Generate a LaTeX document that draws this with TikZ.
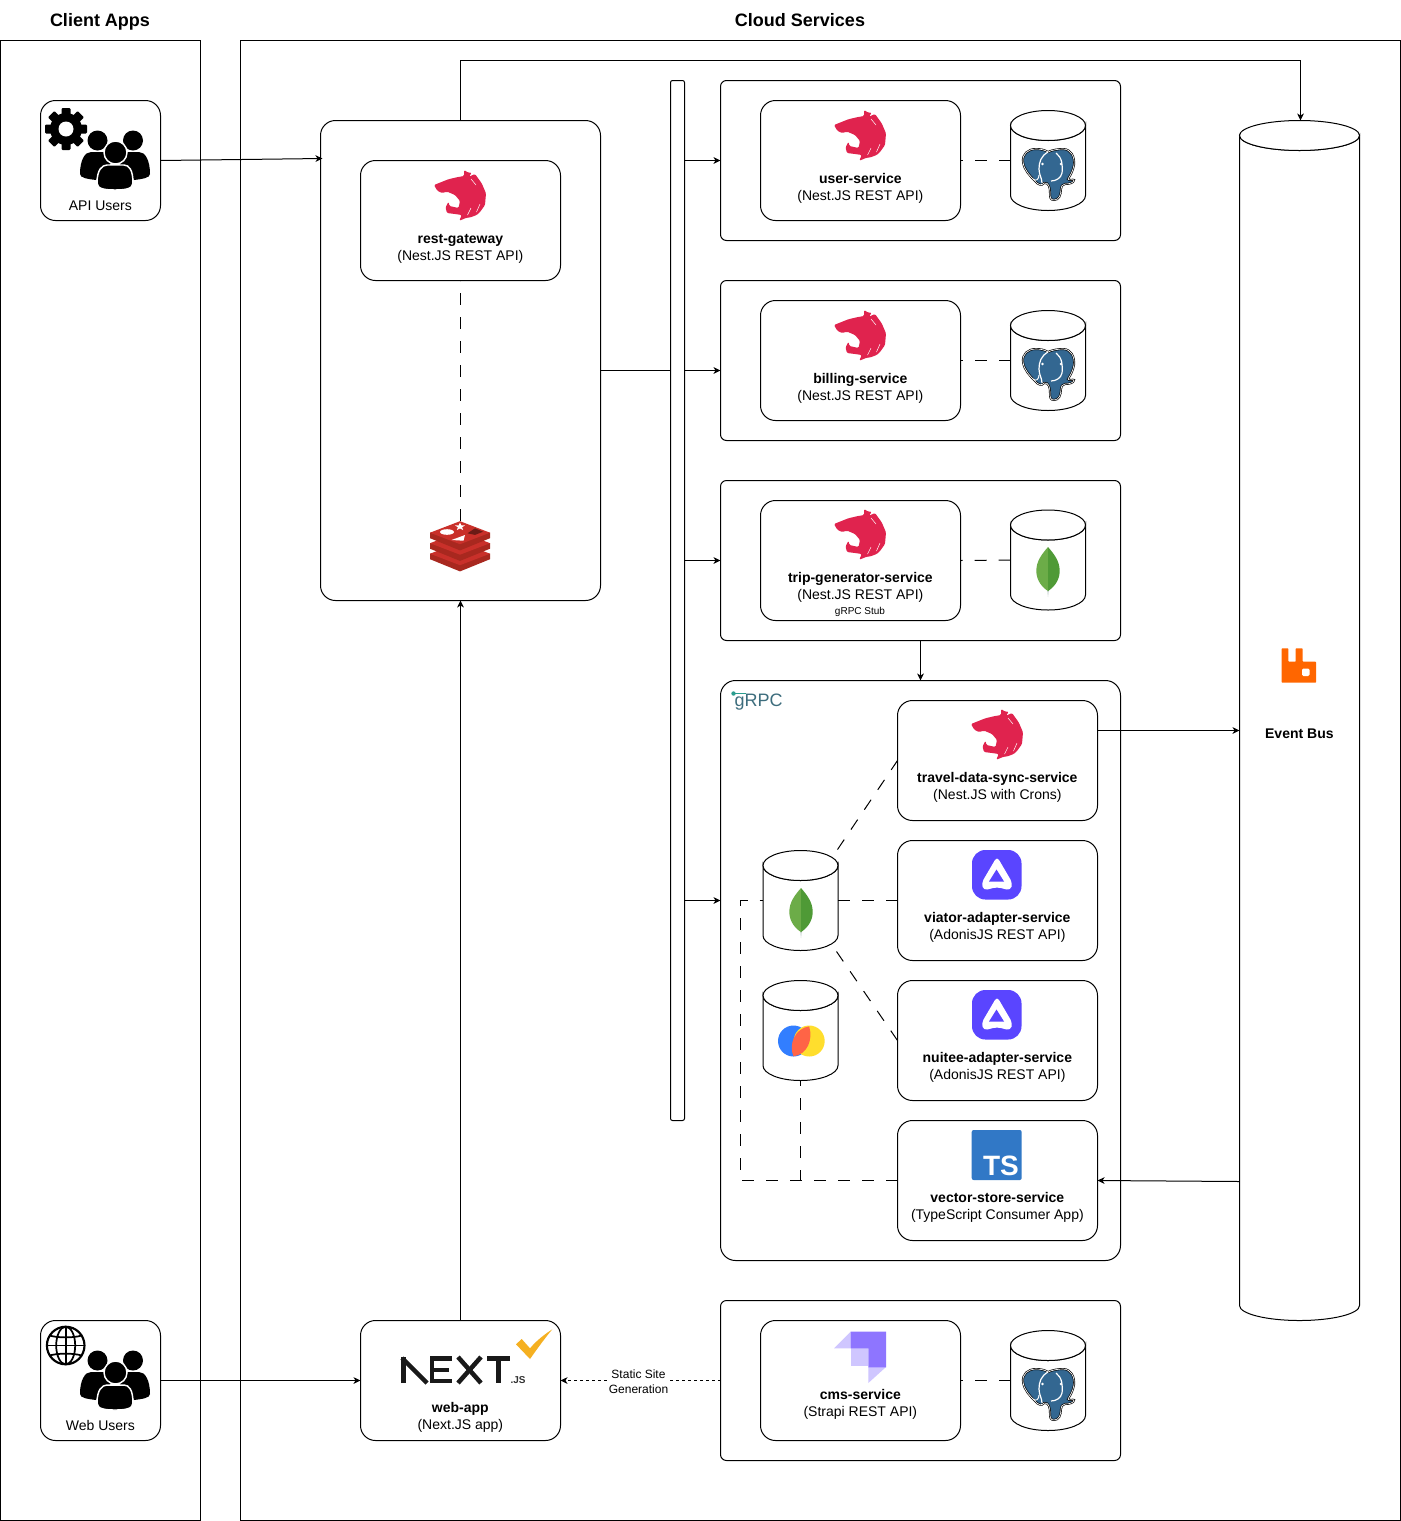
\documentclass[tikz,border=0pt]{standalone}
\usepackage{fontspec}
\setmainfont{Liberation Sans}
\usetikzlibrary{arrows.meta}
\definecolor{nestred}{HTML}{E0234E}
\definecolor{pgblue}{HTML}{336791}
\definecolor{leafL}{HTML}{6CAC48}
\definecolor{leafR}{HTML}{4F9A36}
\definecolor{leafS}{HTML}{B8C4C2}
\definecolor{adonisP}{HTML}{5A45FF}
\definecolor{tsblue}{HTML}{3178C6}
\definecolor{rmqorange}{HTML}{FF6600}
\definecolor{redisR}{HTML}{C9302A}
\definecolor{redisD}{HTML}{A8281F}
\definecolor{redisK}{HTML}{6B1B16}
\definecolor{strapiD}{HTML}{8E75FF}
\definecolor{strapiL}{HTML}{CFC6FF}
\definecolor{nextok}{HTML}{F5B021}
\definecolor{grpcteal}{HTML}{3D6D7D}
\definecolor{grpcdot}{HTML}{2A9D8F}
\definecolor{chromaB}{HTML}{327EFF}
\definecolor{chromaY}{HTML}{FFDE2D}
\definecolor{chromaR}{HTML}{FF6446}
\newcommand{\pxdim}[1]{\dimexpr #1pt*3/4\relax}
\tikzset{
  every pic/.style={shift={(-0.5,-0.5)}},
  panel/.style={draw=black,fill=none,anchor=north west,inner sep=0pt,outer sep=0pt},
  cardbox/.style={draw=black,fill=white,anchor=north west,inner sep=0pt,outer sep=0pt,rounded corners=11.25pt},
  groupbox/.style={draw=black,fill=white,anchor=north west,inner sep=0pt,outer sep=0pt,rounded corners=4.5pt},
  barbox/.style={draw=black,fill=white,anchor=north west,inner sep=0pt,outer sep=0pt,rounded corners=1.5pt},
  cylframe/.style={inner sep=0pt,outer sep=0pt,anchor=north west},
  cylline/.style={draw=black,fill=white},
  arrowline/.style={-{Stealth[length=5.25pt,width=5pt,inset=1.5pt]}},
  longdash/.style={dash pattern=on 9pt off 9pt},
  shortdash/.style={dash pattern=on 2.25pt off 2.25pt},
  titletext/.style={font=\fontsize{13.5}{16}\selectfont\bfseries,inner sep=0pt,execute at begin node=\strut},
  svctext/.style={font=\fontsize{10.5}{12.75}\selectfont,align=center,inner sep=0pt,xshift=-0.1pt,yshift=0.375pt,execute at begin node=\strut,execute at end node=\strut},
  tinytext/.style={font=\fontsize{7.5}{9}\selectfont,inner sep=0pt},
  edgetext/.style={font=\fontsize{9}{11.25}\selectfont,align=center,fill=white,inner sep=1pt,xshift=-0.375pt},
  pics/nestlogo/.style={code={
    \fill[nestred,rounded corners=0.9pt] (0,15) -- (14.3,9.3) -- (22.7,7.3) -- (30,6) -- (30,0) -- (34.3,2.7) -- (37.7,2.7) -- (35,6.7) -- (41,4) -- (47.7,13.3) -- (52,23.3) -- (51,35) -- (46,42) -- (42.7,45) -- (36,47.5) -- (32.7,47.7) -- (25.3,50.7) -- (27.7,45) -- (21,44) -- (13,43) -- (11.5,37.5) -- (14.5,31.7) -- (15.5,36) -- (20,37) -- (24.5,38) -- (26,31) -- (21,25) -- (13.3,21.7) -- (7.7,23) -- (3.3,20.7) -- cycle;
    \draw[white,line width=0.35pt] (37,9) -- (42,15);
    \draw[white,line width=0.35pt] (33.5,45) -- (37,38);
    \draw[white,line width=0.35pt] (42.5,42) -- (46,34);
  }},
  pics/pglogo/.style={code={
    \def\elephantpath{(1,14) .. controls (0,6) and (6,1) .. (14,1) .. controls (19,1) and (23,2) .. (26,4) .. controls (30,2) and (36,1) .. (41,1) .. controls (49,1) and (53,9) .. (52,17) .. controls (51,23) and (48,28) .. (46,31) .. controls (47,33) and (51,31) .. (52,32) .. controls (52,35) and (47,36) .. (43,36) .. controls (40,37) and (39,38) .. (39,41) .. controls (39,47) and (37,52) .. (32,52) .. controls (28,52) and (28,49) .. (28,45) .. controls (28,40) and (27,34) .. (22,35) .. controls (20,38) and (16,37) .. (13,33) .. controls (8,28) and (2,22) .. (1,14) -- cycle}
    \path[fill=pgblue,draw=black,line width=1.5pt] \elephantpath;
    \path[draw=white,line width=0.5pt] \elephantpath;
    \draw[white,line width=0.9pt] (26,4) .. controls (19,8) and (17,14) .. (17,21) .. controls (17,27) and (20,30) .. (20,35);
    \draw[white,line width=0.9pt] (34,5) .. controls (40,9) and (41,18) .. (40,25) .. controls (39,30) and (34,33) .. (29,33);
    \draw[white,line width=0.7pt] (11,31) .. controls (14,34) and (17,31) .. (17,27);
    \fill[white] (20.5,16) circle (1.4);
    \fill[white] (39,16) circle (1.4);
  }},
  pics/leaflogo/.style={code={
    \fill[leafS] (-0.8,42) -- (0.8,42) -- (0,50) -- cycle;
    \fill[leafL] (0,0) .. controls (-6,7) and (-11.7,14) .. (-11.7,24) .. controls (-11.7,34) and (-5,41) .. (0,44) -- cycle;
    \fill[leafR] (0,0) .. controls (6,7) and (11.7,14) .. (11.7,24) .. controls (11.7,34) and (5,41) .. (0,44) -- cycle;
  }},
  pics/adonislogo/.style={code={
    \fill[adonisP,rounded corners=10pt] (0,0) rectangle (49.5,49.5);
    \fill[white,rounded corners=3pt] (25,6.5) -- (9.5,33) -- (11.5,40.5) -- (25,37) -- (38.5,40.5) -- (40.5,33) -- cycle;
    \fill[adonisP] (24.5,19.5) -- (17,31.5) -- (32,31.5) -- cycle;
  }},
  pics/crowdlogo/.style={code={
    \fill[black] (17.5,10.5) circle (10);
    \fill[black] (53,10.5) circle (10);
    \fill[black] (0,44) .. controls (0,30) and (5,22) .. (11,22) -- (24,22) .. controls (28,22) and (32,25) .. (34,30) -- (16,50) .. controls (8,49) and (0,48) .. (0,44) -- cycle;
    \fill[black] (70,44) .. controls (70,30) and (65,22) .. (59,22) -- (46,22) .. controls (42,22) and (38,25) .. (36,30) -- (54,50) .. controls (62,49) and (70,48) .. (70,44) -- cycle;
    \path[fill=black,draw=white,line width=1.1pt] (35.5,22.5) circle (11.5);
    \path[fill=black,draw=white,line width=1.1pt] (17,53) .. controls (17,40) and (22,35) .. (27,35) -- (44,35) .. controls (49,35) and (53,40) .. (53,53) .. controls (53,59) and (45,60) .. (35,60) .. controls (25,60) and (17,59) .. (17,53) -- cycle;
  }},
  pics/gearlogo/.style={code={
    \foreach \ang in {0,45,...,315} {
      \fill[black,rotate=\ang,rounded corners=0.8pt] (-4.5,-21) rectangle (4.5,-12);
    }
    \fill[black] (0,0) circle (16);
    \fill[white] (0,0) circle (7.5);
  }},
  pics/globelogo/.style={code={
    \draw[black,line width=1.6pt] (0,0) circle (18.8);
    \draw[black,line width=1.3pt] (0,0) ellipse [x radius=9.5,y radius=18.8];
    \draw[black,line width=1.3pt] (0,-18.8) -- (0,18.8);
    \draw[black,line width=1.3pt] (-18.8,0) -- (18.8,0);
    \draw[black,line width=1.3pt] (-16,-10) .. controls (-8,-7.5) and (8,-7.5) .. (16,-10);
    \draw[black,line width=1.3pt] (-16,10) .. controls (-8,7.5) and (8,7.5) .. (16,10);
  }},
  pics/redislogo/.style={code={
    \foreach \dy in {21,10.5,0} {
      \fill[redisD] (-30,\dy) -- (-30,\dy+5.5) -- (0,\dy+17.7) -- (30,\dy+5.5) -- (30,\dy) -- cycle;
      \fill[redisR] (-30,\dy) -- (0,\dy-11.5) -- (30,\dy) -- (0,\dy+11.5) -- cycle;
    }
    \fill[white] (-13,-0.7) ellipse [x radius=7,y radius=2.8];
    \fill[white] plot[samples at={0,1,...,9},variable=\k] ({(mod(\k,2)==0 ? 5.4 : 2.2)*sin(36*\k)},{-6-(mod(\k,2)==0 ? 4.2 : 1.7)*cos(36*\k)}) -- cycle;
    \fill[white] (-8.5,7.3) -- (5,2.3) -- (3.5,8) -- cycle;
    \fill[redisK] (7.5,0.6) -- (15,-4.4) -- (23,-1) -- (15,2.2) -- cycle;
  }},
}
\newcommand{\dbcyl}[5]{%
  \node[cylframe,minimum width=\pxdim{#4},minimum height=\pxdim{#5}] (#1) at (#2,#3) {};
  \path[cylline] (#2,#3+15) -- (#2,#3+#5-15) arc[start angle=180,end angle=0,x radius=#4/2,y radius=15] -- (#2+#4,#3+15) arc[start angle=0,end angle=180,x radius=#4/2,y radius=15] -- cycle;
  \path[cylline] (#2+#4/2,#3+15) ellipse [x radius=#4/2,y radius=15];
}
\begin{document}
\begin{tikzpicture}[x=0.75pt,y=-0.75pt,line width=0.75pt]
\useasboundingbox (-0.5,-0.5) rectangle (1400.5,1520.5);
% titles
\node[titletext] (ttclient) at (99.5,22) {Client Apps};
\node[titletext] (ttcloud) at (799.5,22) {Cloud Services};
% swimlanes
\node[panel,minimum width=\pxdim{200},minimum height=\pxdim{1480}] (clientlane) at (0,40) {};
\node[panel,minimum width=\pxdim{1160},minimum height=\pxdim{1480}] (cloudlane) at (240,40) {};
% client cards
\node[cardbox,minimum width=\pxdim{120},minimum height=\pxdim{120}] (apiusers) at (40,100) {};
\pic at (80,130) {crowdlogo};
\pic at (66,129) {gearlogo};
\node[svctext] (apiuserst) at (100,206.6) {API Users};
\node[cardbox,minimum width=\pxdim{120},minimum height=\pxdim{120}] (webusers) at (40,1320) {};
\pic at (80,1350) {crowdlogo};
\pic at (65.7,1345.5) {globelogo};
\node[svctext] (webuserst) at (100,1427) {Web Users};
% gateway
\node[cardbox,minimum width=\pxdim{280},minimum height=\pxdim{480}] (gateway) at (320,120) {};
\node[cardbox,minimum width=\pxdim{200},minimum height=\pxdim{120}] (restgw) at (360,160) {};
\pic at (434,170) {nestlogo};
\node[svctext] (restgwt) at (460,249.8) {\textbf{rest-gateway}\\(Nest.JS REST API)};
\pic at (460,532.7) {redislogo};
\coordinate (redistop) at (460,520);
% bar
\node[barbox,minimum width=\pxdim{14},minimum height=\pxdim{1040}] (routerbar) at (670,80) {};
% user-service
\node[groupbox,minimum width=\pxdim{400},minimum height=\pxdim{160}] (usergroup) at (720,80) {};
\node[cardbox,minimum width=\pxdim{200},minimum height=\pxdim{120}] (usersvc) at (760,100) {};
\pic at (834,110) {nestlogo};
\node[svctext] (usersvct) at (860,189.8) {\textbf{user-service}\\(Nest.JS REST API)};
\dbcyl{userdb}{1010}{110}{75}{100}
\pic at (1022,148) {pglogo};
% billing
\node[groupbox,minimum width=\pxdim{400},minimum height=\pxdim{160}] (billgroup) at (720,280) {};
\node[cardbox,minimum width=\pxdim{200},minimum height=\pxdim{120}] (billsvc) at (760,300) {};
\pic at (834,310) {nestlogo};
\node[svctext] (billsvct) at (860,389.8) {\textbf{billing-service}\\(Nest.JS REST API)};
\dbcyl{billdb}{1010}{310}{75}{100}
\pic at (1022,348) {pglogo};
% trip
\node[groupbox,minimum width=\pxdim{400},minimum height=\pxdim{160}] (tripgroup) at (720,480) {};
\node[cardbox,minimum width=\pxdim{200},minimum height=\pxdim{120}] (tripsvc) at (760,500) {};
\pic at (834,509) {nestlogo};
\node[svctext] (tripsvct) at (860,588.8) {\textbf{trip-generator-service}\\(Nest.JS REST API)};
\node[tinytext] (tripstub) at (859.5,611.3) {gRPC Stub};
\dbcyl{tripdb}{1010}{509.5}{75}{100}
\pic at (1048,547) {leaflogo};
% grpc group
\node[cardbox,minimum width=\pxdim{400},minimum height=\pxdim{580}] (grpcgroup) at (720,680) {};
\fill[grpcdot] (733,693) circle (2.2);
\draw[grpcdot,line width=0.5pt] (733,693) -- (745,693);
\node[font=\fontsize{13.5}{16}\selectfont,text=grpcteal,inner sep=0pt,anchor=west] (grpclogo) at (733.5,702) {gRPC};
\node[cardbox,minimum width=\pxdim{200},minimum height=\pxdim{120}] (travelsvc) at (897,700) {};
\pic at (971,709) {nestlogo};
\node[svctext] (travelsvct) at (997,788.8) {\textbf{travel-data-sync-service}\\(Nest.JS with Crons)};
\node[cardbox,minimum width=\pxdim{200},minimum height=\pxdim{120}] (viatorsvc) at (897,840) {};
\pic at (972,850) {adonislogo};
\node[svctext] (viatorsvct) at (997,928.8) {\textbf{viator-adapter-service}\\(AdonisJS REST API)};
\node[cardbox,minimum width=\pxdim{200},minimum height=\pxdim{120}] (nuiteesvc) at (897,980) {};
\pic at (972,990) {adonislogo};
\node[svctext] (nuiteesvct) at (997,1068.8) {\textbf{nuitee-adapter-service}\\(AdonisJS REST API)};
\node[cardbox,minimum width=\pxdim{200},minimum height=\pxdim{120}] (vectorsvc) at (897,1120) {};
\fill[tsblue,rounded corners=1.5pt] (971.2,1129.5) rectangle (1021.2,1179.5);
\node[font=\fontsize{21}{24}\selectfont\bfseries,text=white,inner sep=0pt,anchor=base east] (tslogo) at (1018.8,1174.5) {TS};
\node[svctext] (vectorsvct) at (997,1208.8) {\textbf{vector-store-service}\\(TypeScript Consumer App)};
\dbcyl{mongodb}{762.5}{850}{75}{100}
\pic at (801,888) {leaflogo};
\dbcyl{chromadb}{762.5}{980}{75}{100}
\fill[chromaB] (793,1040.5) circle (15.5);
\fill[chromaY] (808.7,1040.5) circle (15.5);
\fill[chromaR] (793,1055.8) .. controls (787.7,1043.8) and (794.7,1027.8) .. (808.7,1025.8) .. controls (812.7,1039.8) and (806.7,1053.8) .. (793,1055.8) -- cycle;
% event bus
\dbcyl{eventbus}{1239}{120}{120}{1200}
\fill[rmqorange,rounded corners=0.5pt] (1281.2,647.8) -- (1287.8,647.8) -- (1287.8,661.2) -- (1295.2,661.2) -- (1295.2,647.8) -- (1302.2,647.8) -- (1302.2,661.2) -- (1315.5,661.2) -- (1315.5,682.2) -- (1281.2,682.2) -- cycle;
\fill[white,rounded corners=1pt] (1301.5,668) rectangle (1309,675.5);
\node[svctext] (eventbust) at (1299,734.9) {\textbf{Event Bus}};
% cms
\node[groupbox,minimum width=\pxdim{400},minimum height=\pxdim{160}] (cmsgroup) at (720,1300) {};
\node[cardbox,minimum width=\pxdim{200},minimum height=\pxdim{120}] (cmssvc) at (760,1320) {};
\fill[strapiL] (867.8,1366.5) -- (885.5,1366.5) -- (867.8,1382.5) -- cycle;
\fill[strapiL] (850.2,1331.2) -- (850.2,1347.8) -- (833.5,1347.8) -- cycle;
\fill[strapiL] (850.2,1347.8) -- (867.8,1347.8) -- (867.8,1365.2) -- (850.2,1365.2) -- cycle;
\fill[strapiD] (850.2,1331.2) -- (885.5,1331.2) -- (885.5,1366.8) -- (867.8,1366.8) -- (867.8,1347.8) -- (850.2,1347.8) -- cycle;
\node[svctext] (cmssvct) at (860,1405.9) {\textbf{cms-service}\\(Strapi REST API)};
\dbcyl{cmsdb}{1010}{1330}{75}{100}
\pic at (1022,1368) {pglogo};
% web-app
\node[cardbox,minimum width=\pxdim{200},minimum height=\pxdim{120}] (webapp) at (360,1320) {};
\begin{scope}[line width=3.4pt,line cap=butt,line join=miter]
  \draw[black!90] (403,1382.5) -- (403,1356.5);
  \draw[black!90] (401.5,1357.5) -- (426.5,1382.5);
  \draw[black!90] (451,1358) -- (431.5,1358) -- (431.5,1380.5) -- (451,1380.5);
  \draw[black!90,line width=3pt] (431.5,1369.3) -- (448.5,1369.3);
  \draw[black!90] (457.5,1356.5) -- (480.5,1382.5);
  \draw[black!90] (480.5,1356.5) -- (457.5,1382.5);
  \draw[black!90] (486.5,1358) -- (509.5,1358);
  \draw[black!90] (498,1358) -- (498,1382.5);
\end{scope}
\node[font=\fontsize{7.5}{9}\selectfont\bfseries,text=black!80,inner sep=0pt,anchor=base west] (nextjs) at (509.5,1382.5) {.JS};
\fill[nextok] (515.5,1343.8) -- (521.2,1338.5) -- (529.5,1347.8) .. controls (536.5,1339.5) and (544.5,1333.5) .. (551.8,1328.8) .. controls (544.5,1337.5) and (536.5,1348.5) .. (529.5,1358.5) -- cycle;
\node[svctext] (webappt) at (460,1418.3) {\textbf{web-app}\\(Next.JS app)};
% helper coordinates
\coordinate (gwin) at (322,158);
\coordinate (gwout) at (600,370);
\coordinate (bustop) at (1300,120);
\coordinate (travelout) at (1097,730);
\coordinate (mongotrav) at (837,849);
\coordinate (mongonuit) at (836,951);
\coordinate (dashleft) at (740,0);
% connectors
\draw[arrowline] (apiusers.east) -- (gwin);
\draw[arrowline] (gateway.north) -- (gateway.north |- 0,60) -- (bustop |- 0,60) -- (bustop);
\draw (gwout) -- (routerbar.west |- gwout);
\draw[arrowline] (routerbar.east |- gwout) -- (billgroup.west |- gwout);
\draw[arrowline] (routerbar.east |- usergroup.west) -- (usergroup.west);
\draw[arrowline] (routerbar.east |- tripgroup.west) -- (tripgroup.west);
\draw[arrowline] (routerbar.east |- viatorsvc.west) -- (grpcgroup.west |- viatorsvc.west);
\draw[arrowline] (tripgroup.south) -- (grpcgroup.north);
\draw[arrowline] (travelout) -- (travelout -| eventbus.west);
\draw[arrowline] (eventbus.west |- 0,1181) -- (vectorsvc.east);
\draw[arrowline] (webapp.north) -- (gateway.south);
\draw[arrowline] (webusers.east) -- (webapp.west);
\draw[arrowline,shortdash] (cmsgroup.west) -- (webapp.east);
\node[edgetext] (ssg) at (638.5,1381) {Static Site\\Generation};
% dashed links
\draw[longdash] (redistop) -- (restgw.south);
\draw[longdash] (userdb.west) -- (usersvc.east);
\draw[longdash] (billdb.west) -- (billsvc.east);
\draw[longdash] (tripdb.west) -- (tripsvc.east);
\draw[longdash] (cmsdb.west) -- (cmssvc.east);
\draw[longdash] (mongotrav) -- (travelsvc.west);
\draw[longdash] (mongodb.east) -- (viatorsvc.west);
\draw[longdash] (mongonuit) -- (nuiteesvc.west);
\draw[longdash] (vectorsvc.west) -- (dashleft |- vectorsvc.west) -- (dashleft |- mongodb.west) -- (mongodb.west);
\draw[longdash] (vectorsvc.west) -| (chromadb.south);
\end{tikzpicture}
\end{document}
